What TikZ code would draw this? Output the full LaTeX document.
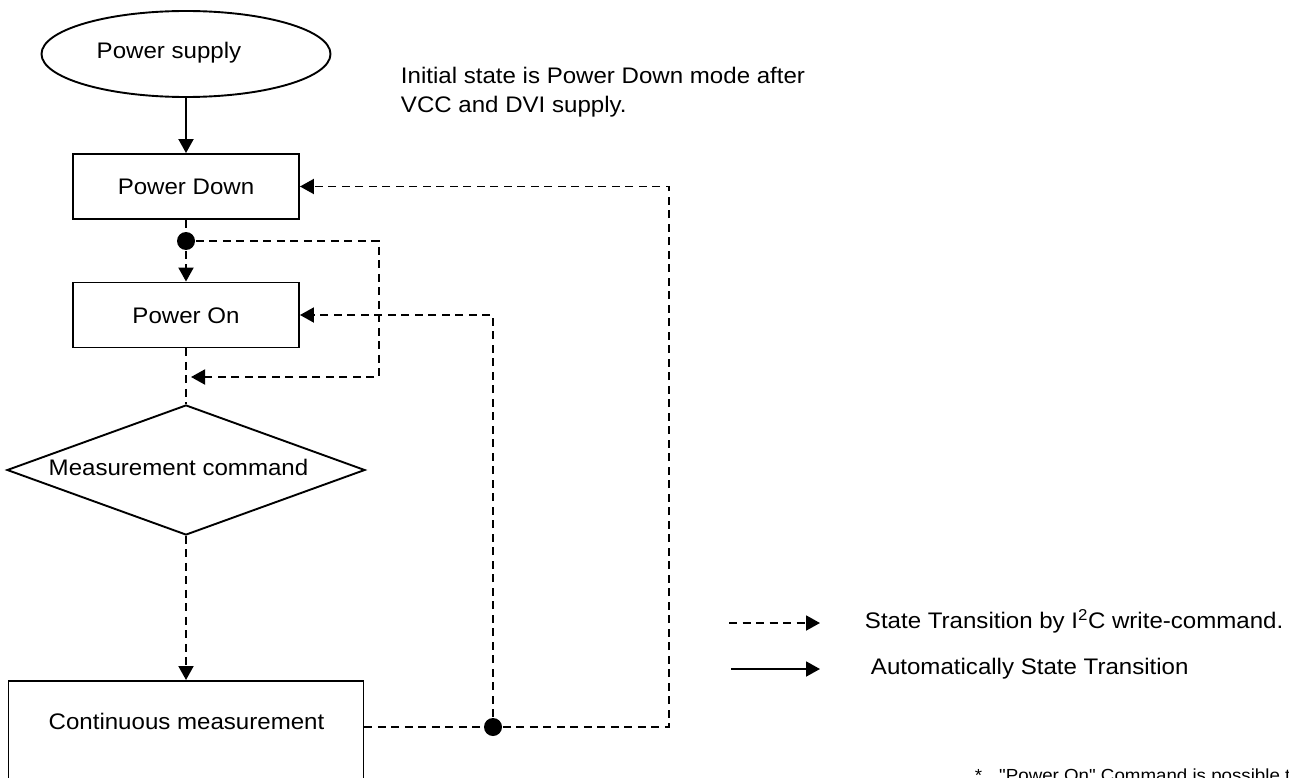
\documentclass[tikz,border=0pt]{standalone}
\usepackage{fontspec}
\setmainfont{Liberation Sans}[FakeStretch=1.07,Ligatures=TeXOff]
\usetikzlibrary{shapes.geometric,arrows.meta}
\begin{document}
\begin{tikzpicture}[x=1pt,y=-1pt,line width=1.9pt,
  every node/.style={font=\fontsize{22.5}{29}\selectfont,inner sep=0pt},
  box/.style={draw,rectangle,minimum width=226pt,minimum height=65pt,text height=16pt,text depth=0pt},
  dsh/.style={dash pattern=on 8pt off 5.5pt},
  arr/.style={-{Triangle[length=14pt,width=15pt]}},
  jdot/.style={circle,fill,minimum size=18pt,inner sep=0pt}]
\useasboundingbox (0,0) rectangle (1289,778);
% shapes
\node[draw,ellipse,minimum width=289pt,minimum height=86pt] (ps) at (186,54) {};
\node[anchor=base] (pst) at (169,59) {Power supply};
\node[box] (pd) at (186,186.5) {Power Down};
\node[box] (pon) at (186,315) {Power On};
\node[draw,diamond,minimum width=358pt,minimum height=130pt,inner sep=0pt] (mc) at (186,470) {};
\node[anchor=base] (mct) at (178.5,475) {Measurement command};
\node[draw,rectangle,minimum width=355pt,minimum height=160pt,anchor=north] (cm) at (186,680) {};
\node[anchor=base] (cmt) at (186.5,729) {Continuous measurement};
\node[jdot] (d1) at (186,241) {};
\node[jdot] (d2) at (493,727) {};
\coordinate (c1) at (379,241);
\coordinate (c2) at (379,377);
\coordinate (c3) at (191,377);
\coordinate (c4) at (669,727);
% connectors
\draw[arr] (ps) -- (pd);
\draw[dsh] (pd.south) -- (d1);
\draw[dsh,arr] (d1) -- (pon.north);
\draw[dsh,arr] (d1) -- (c1) -- (c2) -- (c3);
\draw[dsh] (pon.south) -- (mc.north);
\draw[dsh,arr] (mc.south) -- (cm.north);
\draw[dsh] (cm.east |- d2) -- (d2);
\draw[dsh,arr] (d2) -- (c4) -- (c4 |- pd.east) -- (pd.east);
\draw[dsh,arr] (d2) -- (d2 |- pon.east) -- (pon.east);
% note
\node[anchor=north west,align=left] (note) at (400,66.5) {Initial state is Power Down mode after\\VCC and DVI supply.};
% legend
\coordinate (l1a) at (729,623);
\coordinate (l1b) at (820,623);
\coordinate (l2a) at (731,669);
\coordinate (l2b) at (820,669);
\draw[dsh,arr] (l1a) -- (l1b);
\draw[arr] (l2a) -- (l2b);
\node[anchor=base west] (l1t) at (864,628) {State Transition by I\textsuperscript{2}C write-command.};
\node[anchor=base west] (l2t) at (870,674) {Automatically State Transition};
% footnote
\node[anchor=base west,font=\fontsize{17.5}{20}\selectfont] (fn) at (974,781) {*\hspace{17pt}"Power On" Command is possible t};
\end{tikzpicture}
\end{document}
